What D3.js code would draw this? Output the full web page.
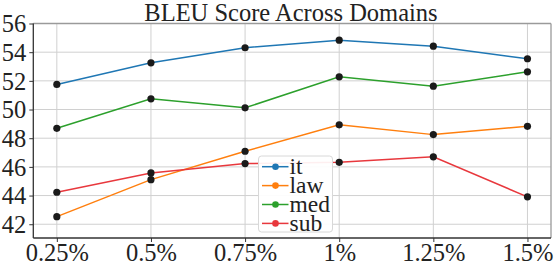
<!DOCTYPE html>
<html><head><meta charset="utf-8">
<script src="https://cdn.jsdelivr.net/npm/d3@7"></script>
<style>body{margin:0;background:#fff}svg{display:block}text{font-family:serif;fill:#222}</style>
</head><body><svg id="c" width="558" height="267"></svg>
<script>
const categories = ["0.25%","0.5%","0.75%","1%","1.25%","1.5%"];
const seriesNames = ["it","law","med","sub"];
const itValues  = [51.75, 53.26, 54.31, 54.84, 54.42, 53.54];
const lawValues = [42.53, 45.11, 47.09, 48.93, 48.25, 48.83];
const medValues = [48.69, 50.75, 50.12, 52.28, 51.63, 52.63];
const subValues = [44.23, 45.58, 46.23, 46.32, 46.70, 43.91];
const yTicks = [42,44,46,48,50,52,54,56];
const colors = ["#1f77b4","#ff7f0e","#2ca02c","#e8383d"];
const title = "BLEU Score Across Domains";

const FONT = 'serif';
const series = [itValues, lawValues, medValues, subValues];
const svg = d3.select("#c");
const L=33.3, R=551, T=23.5, B=238;
const x = d3.scaleLinear().domain([-0.25, categories.length-0.75]).range([L,R]);
const y = d3.scaleLinear().domain([41.04, 56]).range([B,T]);

// grid
svg.append("g").selectAll("line").data(categories).join("line")
  .attr("x1",(d,i)=>x(i)).attr("x2",(d,i)=>x(i)).attr("y1",T).attr("y2",B)
  .attr("stroke","#d0d0d0").attr("stroke-width",1);
svg.append("g").selectAll("line").data(yTicks).join("line")
  .attr("x1",L).attr("x2",R).attr("y1",d=>y(d)).attr("y2",d=>y(d))
  .attr("stroke","#d0d0d0").attr("stroke-width",1);

// frame: top/right gray
svg.append("line").attr("x1",L).attr("x2",R).attr("y1",T).attr("y2",T).attr("stroke","#9a9a9a").attr("stroke-width",1.3);
svg.append("line").attr("x1",R).attr("x2",R).attr("y1",T).attr("y2",B).attr("stroke","#9a9a9a").attr("stroke-width",1.3);

// lines & points
const line = d3.line().x((d,i)=>x(i)).y(d=>y(d));
series.forEach((s,k)=>{
  svg.append("path").datum(s).attr("d",line).attr("fill","none")
    .attr("stroke",colors[k]).attr("stroke-width",1.5);
});
series.forEach((s,k)=>{
  svg.append("g").selectAll("circle").data(s).join("circle")
    .attr("cx",(d,i)=>x(i)).attr("cy",d=>y(d)).attr("r",3.6).attr("fill","#1a1a1a");
});

// axes
const xAxis = d3.axisBottom(x).tickValues(d3.range(categories.length)).tickFormat(i=>categories[i]).tickSize(4).tickPadding(2);
const gx = svg.append("g").attr("transform",`translate(0,${B})`).call(xAxis);
const yAxis = d3.axisLeft(y).tickValues(yTicks).tickSize(4).tickPadding(3);
const gy = svg.append("g").attr("transform",`translate(${L},0)`).call(yAxis);
[gx,gy].forEach(g=>{
  g.attr("font-family",FONT).attr("font-size",24.5);
  g.select(".domain").attr("stroke","#333").attr("stroke-width",1.3);
  g.selectAll(".tick line").attr("stroke","#333");
  g.selectAll("text").attr("fill","#222");
});
gx.select(".domain").attr("d",`M${L},0H${R}`);
gy.select(".domain").attr("d",`M0,${T}V${B}`);
gx.selectAll("text").attr("dy","0.71em");
gy.selectAll("text").attr("dy","0.34em");

// title
svg.append("text").attr("x",291).attr("y",20.5).attr("text-anchor","middle")
  .attr("font-family",FONT).attr("font-size",24.5).text(title);

// legend
const lg = svg.append("g").attr("font-family",FONT).attr("font-size",23.5);
lg.append("rect").attr("x",258.5).attr("y",156).attr("width",74).attr("height",76)
  .attr("rx",3).attr("fill","#fff").attr("fill-opacity",0.92).attr("stroke","#d8d8d8");
const ly0=166.7, ldy=18.9;
seriesNames.forEach((n,k)=>{
  const yy = ly0 + k*ldy;
  lg.append("line").attr("x1",262).attr("x2",288.5).attr("y1",yy).attr("y2",yy).attr("stroke",colors[k]).attr("stroke-width",1.5);
  lg.append("circle").attr("cx",275.5).attr("cy",yy).attr("r",3.3).attr("fill",colors[k]);
  lg.append("text").attr("x",289.5).attr("y",yy).attr("dy","0.33em").text(n);
});
</script></body></html>
